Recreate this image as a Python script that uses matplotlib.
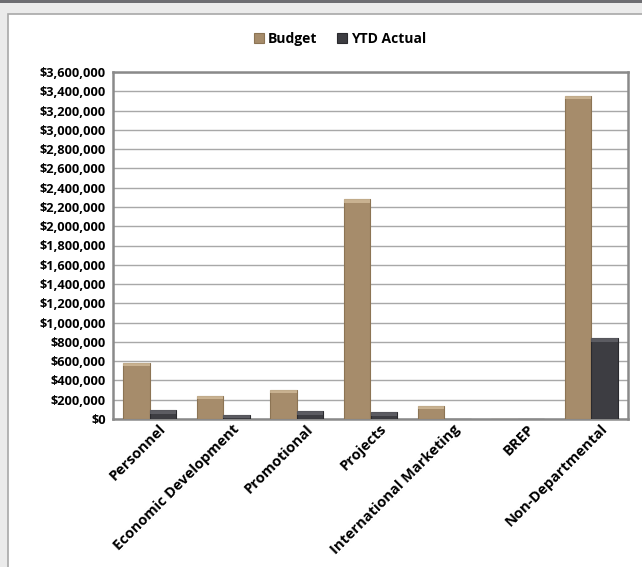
import matplotlib.pyplot as plt
import matplotlib.patches as mpatches
import matplotlib.transforms as mtransforms
from matplotlib.ticker import FuncFormatter, MultipleLocator
import numpy as np

categories = ['Personnel', 'Economic Development', 'Promotional', 'Projects',
              'International Marketing', 'BREP', 'Non-Departmental']
budget = [580000, 240000, 300000, 2280000, 135000, 0, 3350000]
ytd_actual = [92000, 45000, 78000, 68000, 0, 0, 838000]

plt.rcParams['font.family'] = ['Open Sans', 'DejaVu Sans']
plt.rcParams['font.weight'] = 'bold'

W, H = 642, 567
fig = plt.figure(figsize=(W / 100, H / 100), dpi=100)
fig.patch.set_facecolor('#EBEBEB')

# white panel and the dark strip at the top
fig.patches.append(mpatches.Rectangle((8 / W, -0.1), 1, 1.1 - 14 / H, transform=fig.transFigure,
                                      facecolor='white', edgecolor='#A8A8A8', lw=1.2, zorder=-10))
fig.patches.append(mpatches.Rectangle((0, 1 - 2.5 / H), 1, 2.5 / H, transform=fig.transFigure,
                                      facecolor='#6E6E72', edgecolor='none', zorder=-10))

ax = fig.add_axes([113 / W, 1 - 419 / H, (628 - 113) / W, (419 - 72) / H])
ax.set_facecolor('white')

x = np.arange(len(categories))
w = 0.36
b1 = ax.bar(x - w / 2, budget, w, color='#A68C6B', edgecolor='#8C7454', lw=0.8,
            label='Budget', zorder=3)
b2 = ax.bar(x + w / 2, ytd_actual, w, color='#3D3D42', edgecolor='#2A2A2E', lw=0.8,
            label='YTD Actual', zorder=3)

# light cap on top of each bar for the bevel look
for bars, cap in ((b1, '#D8C3A2'), (b2, '#6A6A70')):
    for r in bars:
        h = r.get_height()
        if h <= 0:
            continue
        ch = min(h, 35000)
        ax.add_patch(mpatches.Rectangle((r.get_x(), h - ch), r.get_width(), ch,
                                        facecolor=cap, edgecolor='none', alpha=0.7, zorder=4))

ax.set_xlim(-0.5, len(categories) - 0.5)
ax.set_ylim(0, 3600000)
ax.yaxis.set_major_locator(MultipleLocator(200000))
ax.yaxis.set_major_formatter(FuncFormatter(lambda v, p: '${:,.0f}'.format(v)))
ax.grid(axis='y', color='#A8A8A8', lw=1, zorder=0)
ax.tick_params(axis='y', length=0, labelsize=9.2, pad=5)
ax.tick_params(axis='x', length=0, labelsize=10.5, pad=2)
ax.set_xticks(x)
ax.set_xticklabels(categories, rotation=45, ha='right', rotation_mode='anchor')
for t in ax.get_yticklabels() + ax.get_xticklabels():
    t.set_fontweight('bold')
for s in ax.spines.values():
    s.set_color('#8A8A8A')
    s.set_linewidth(1.8)

# shift x labels a little to the right, as in the original
off = mtransforms.ScaledTranslation(9 / 100, 0, fig.dpi_scale_trans)
for t in ax.get_xticklabels():
    t.set_transform(t.get_transform() + off)

leg = fig.legend(handles=[b1, b2], loc='center', bbox_to_anchor=(340 / W, 1 - 39 / H),
                 ncol=2, frameon=False, handlelength=0.7, handleheight=0.7,
                 handletextpad=0.3, columnspacing=1.4, prop={'weight': 'bold', 'size': 10})

fig.savefig('out.png', dpi=100, facecolor=fig.get_facecolor())
